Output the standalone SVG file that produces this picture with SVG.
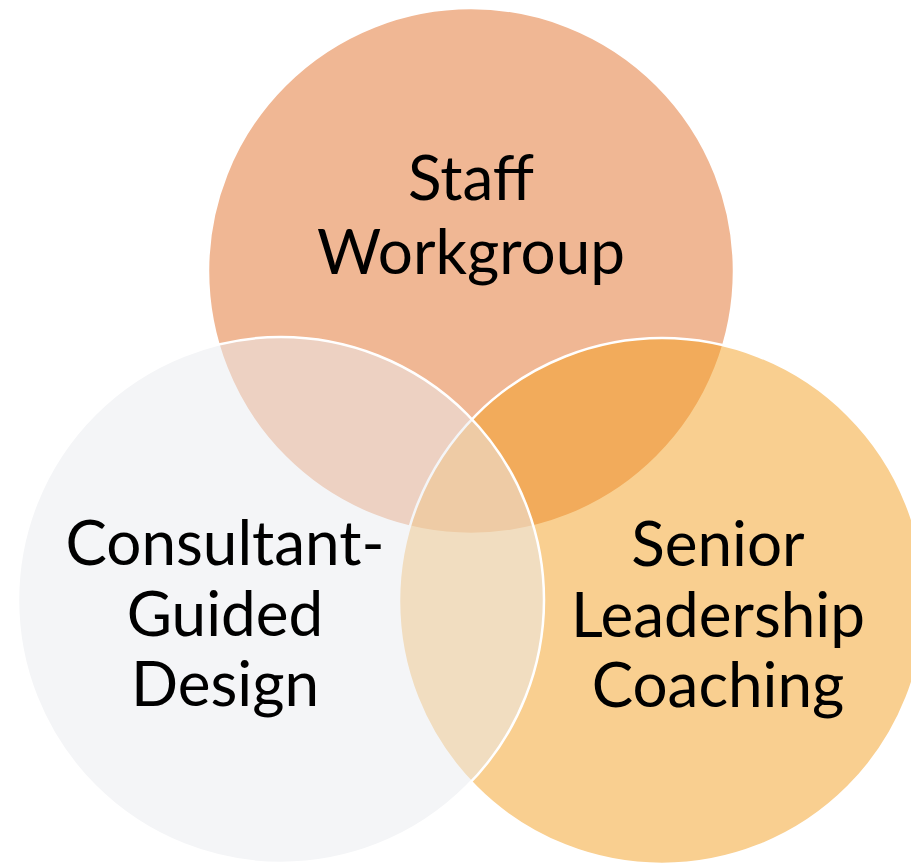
<svg xmlns="http://www.w3.org/2000/svg" width="911" height="863" viewBox="0 0 911 863">
  <style>
    .ring { stroke: #ffffff; stroke-width: 2.5; }
    .label { font-family: Lato, "Open Sans", "Liberation Sans", sans-serif; font-size: 62px; fill: #000000; text-anchor: middle; }
  </style>
  <rect width="911" height="863" fill="#ffffff"/>
  <!-- Venn circles: later circles are translucent over earlier ones -->
  <g id="staff-workgroup">
    <circle class="ring" cx="471" cy="271" r="263" fill="#F0B794"/>
  </g>
  <g id="senior-leadership-coaching">
    <circle class="ring" cx="662" cy="601" r="263" fill="#F3A022" fill-opacity="0.5"/>
  </g>
  <g id="consultant-guided-design">
    <circle class="ring" cx="281" cy="600" r="263" fill="#E9EBEF" fill-opacity="0.5"/>
  </g>
  <!-- Labels -->
  <g id="labels">
    <text class="label" x="471" y="200">Staff</text>
    <text class="label" x="471" y="274">Workgroup</text>
    <text class="label" x="225" y="565">Consultant-</text>
    <text class="label" x="225" y="636">Guided</text>
    <text class="label" x="225" y="706">Design</text>
    <text class="label" x="718" y="566">Senior</text>
    <text class="label" x="718" y="637">Leadership</text>
    <text class="label" x="718" y="707">Coaching</text>
  </g>
</svg>
